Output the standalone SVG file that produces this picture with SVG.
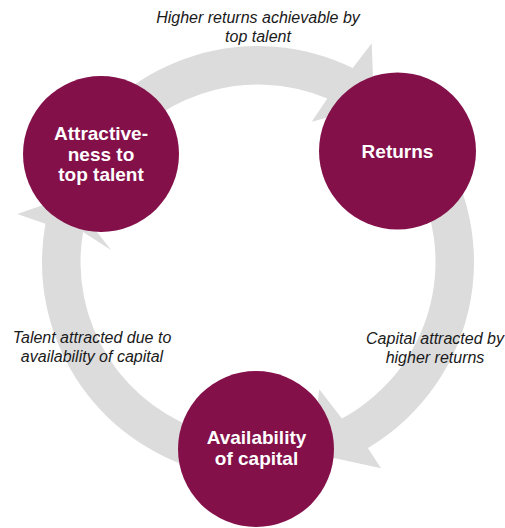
<svg xmlns="http://www.w3.org/2000/svg" width="505" height="528" viewBox="0 0 505 528">
  <style>
    .arrow { fill: #dcdcdc; stroke: none; }
    .node circle { fill: #84104a; }
    .node text { fill: #ffffff; font-family: "Liberation Sans", Arial, sans-serif; font-weight: bold; font-size: 19px; text-anchor: middle; }
    .label { fill: #1a1a1a; font-family: "Liberation Sans", Arial, sans-serif; font-style: italic; font-size: 16px; text-anchor: middle; }
  </style>
  <rect width="505" height="528" fill="#ffffff"/>
  <g id="connectors">
    <path class="arrow" d="M 70.9,154 A 216 216 0 0 1 352.7,67.9 L 371.7,43.3 L 374,105 L 311.7,121.7 L 327.35,98.6 A 177.5 177.5 0 0 0 104.3,173.25 Z"/>
    <path class="arrow" d="M 423.5,123.2 A 216 216 0 0 1 367.9,447.9 L 381,468.3 L 311,453 L 319.3,389.3 L 341.9,418.4 A 177.5 177.5 0 0 0 394,147.9 Z"/>
    <path class="arrow" d="M 202.1,470.6 A 216 216 0 0 1 45.4,223.7 L 17.3,214 L 69,196 L 111,250 L 83.1,231.9 A 177.5 177.5 0 0 0 212.1,433.5 Z"/>
    <text class="label" x="258" y="23">Higher returns achievable by</text>
    <text class="label" x="258" y="41.5">top talent</text>
    <text class="label" x="435" y="344">Capital attracted by</text>
    <text class="label" x="435" y="362.5">higher returns</text>
    <text class="label" x="92" y="343">Talent attracted due to</text>
    <text class="label" x="92" y="361.5">availability of capital</text>
  </g>
  <g id="node-attractiveness" class="node">
    <circle cx="101" cy="154" r="78"/>
    <text x="101" y="140">Attractive-</text>
    <text x="101" y="160.5">ness to</text>
    <text x="101" y="181">top talent</text>
  </g>
  <g id="node-returns" class="node">
    <circle cx="397.5" cy="151" r="78.5"/>
    <text x="397.5" y="158">Returns</text>
  </g>
  <g id="node-availability" class="node">
    <circle cx="256" cy="449" r="78"/>
    <text x="256.5" y="444">Availability</text>
    <text x="256.5" y="464.5">of capital</text>
  </g>
</svg>
